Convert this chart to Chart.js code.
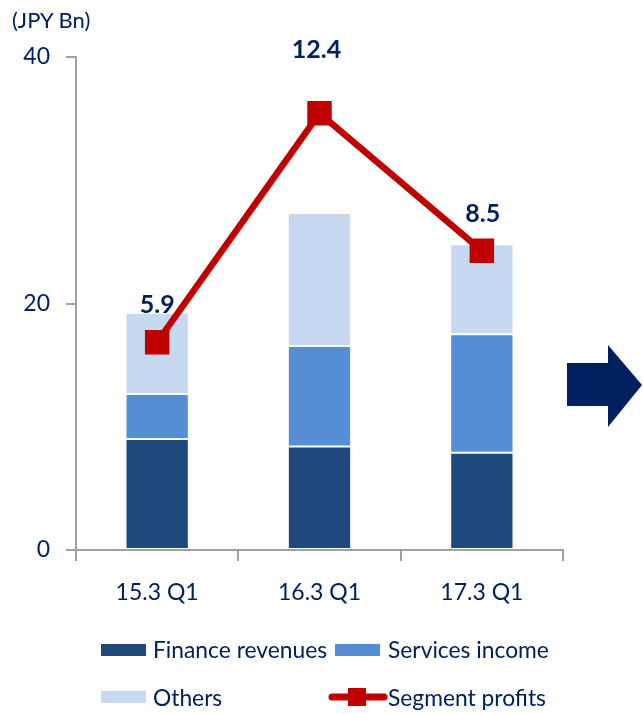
<!DOCTYPE html>
<html>
<head>
<meta charset="utf-8">
<script src="https://cdn.jsdelivr.net/npm/chart.js@4/dist/chart.umd.min.js"></script>
<style>
  html, body { margin: 0; padding: 0; background: #fff; }
  #wrap { position: relative; width: 643px; height: 714px; overflow: hidden; font-family: Lato, sans-serif; color: #002060; }
  #c { position: absolute; left: 0; top: 0; }
  .unit { position: absolute; left: 12px; top: 6px; font-size: 22px; }
  .leg { position: absolute; font-size: 22.8px; line-height: 26px; white-space: nowrap; }
  .box { position: absolute; width: 45px; height: 12px; }
  svg { position: absolute; left: 0; top: 0; }
</style>
</head>
<body>
<div id="wrap">
  <canvas id="c" width="643" height="714"></canvas>
  <div class="unit">(JPY Bn)</div>
  <svg width="643" height="714">
    <polygon points="567,363 608,363 608,345 642,385 608,427 608,406 567,406" fill="#002060"/>
    <line x1="332" y1="697" x2="384" y2="697" stroke="#C00000" stroke-width="7" stroke-linecap="round"/>
    <rect x="348" y="688" width="18" height="18" fill="#C00000"/>
  </svg>
  <div class="box" style="left:101px; top:644px; background:#1F497D;"></div>
  <div class="leg" style="left:153px; top:636px;">Finance revenues</div>
  <div class="box" style="left:335px; top:644px; background:#558ED5;"></div>
  <div class="leg" style="left:388px; top:636px;">Services income</div>
  <div class="box" style="left:101px; top:691px; background:#C6D9F1;"></div>
  <div class="leg" style="left:153px; top:684px;">Others</div>
  <div class="leg" style="left:388px; top:684px;">Segment profits</div>
</div>
<script>
const categories = ['15.3 Q1', '16.3 Q1', '17.3 Q1'];
const financeRevenues = [9.0, 8.4, 7.9];
const servicesIncome = [3.65, 8.15, 9.6];
const others = [6.6, 10.8, 7.3];
const segmentProfits = [5.9, 12.4, 8.5];
const yTicks = [0, 20, 40];

const navy = '#002060';
const axisGray = '#A0A0A0';
Chart.defaults.font.family = 'Lato, sans-serif';
Chart.defaults.color = navy;

const valueLabels = {
  id: 'valueLabels',
  afterDatasetsDraw(chart, args, opts) {
    const ctx = chart.ctx;
    const meta = chart.getDatasetMeta(3);
    ctx.save();
    ctx.font = 'bold 25px Lato, sans-serif';
    ctx.fillStyle = navy;
    ctx.textAlign = 'center';
    ctx.textBaseline = 'middle';
    meta.data.forEach((pt, i) => {
      ctx.fillText(segmentProfits[i].toFixed(1), pt.x + (opts.dx[i] || 0), pt.y + opts.dy[i]);
    });
    ctx.restore();
  }
};

new Chart(document.getElementById('c'), {
  type: 'bar',
  data: {
    labels: categories,
    datasets: [
      { label: 'Finance revenues', data: financeRevenues, backgroundColor: '#1F497D', borderColor: '#FFFFFF', borderWidth: 1, borderSkipped: false, stack: 's', order: 2 },
      { label: 'Services income', data: servicesIncome, backgroundColor: '#558ED5', borderColor: '#FFFFFF', borderWidth: 1, borderSkipped: false, stack: 's', order: 2 },
      { label: 'Others', data: others, backgroundColor: '#C6D9F1', borderColor: '#FFFFFF', borderWidth: 1, borderSkipped: false, stack: 's', order: 2 },
      { type: 'line', label: 'Segment profits', data: segmentProfits, yAxisID: 'y2', borderColor: '#C00000', backgroundColor: '#C00000', borderWidth: 6.5, pointStyle: 'rect', pointRadius: 12.7, pointHoverRadius: 12.7, fill: false, tension: 0, order: 0 }
    ]
  },
  options: {
    responsive: false,
    animation: false,
    events: [],
    layout: { padding: { left: 0, right: 80, top: 57, bottom: 0 } },
    datasets: { bar: { barPercentage: 0.39, categoryPercentage: 1 } },
    plugins: {
      legend: { display: false },
      tooltip: { enabled: false },
      valueLabels: { dy: [-37, -63, -37], dx: [0, -3, 1] }
    },
    scales: {
      x: {
        stacked: true,
        grid: { offset: true, drawOnChartArea: false, drawTicks: true, tickLength: 11, color: axisGray, lineWidth: 2 },
        border: { display: true, color: axisGray, width: 2 },
        ticks: { font: { size: 23 }, color: navy, padding: 18 },
        afterFit(s) { s.height = 164; }
      },
      y: {
        stacked: true,
        min: 0, max: 40,
        afterBuildTicks(s) { s.ticks = yTicks.map(v => ({ value: v })); },
        grid: { drawOnChartArea: false, drawTicks: true, tickLength: 10, color: axisGray, lineWidth: 2 },
        border: { display: true, color: axisGray, width: 2 },
        ticks: { font: { size: 23 }, color: navy, padding: 16 },
        afterFit(s) { s.width = 76; }
      },
      y2: { display: false, min: 0, max: 14 }
    }
  },
  plugins: [valueLabels]
});
</script>
</body>
</html>
